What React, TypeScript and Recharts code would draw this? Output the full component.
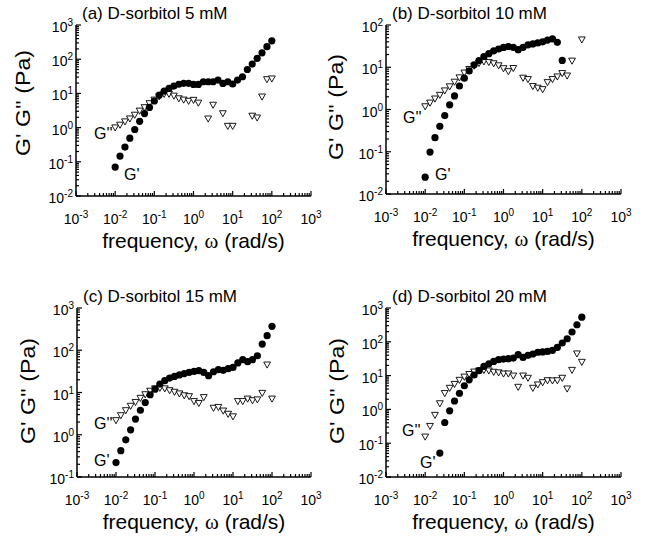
import React from "react";
import { ScatterChart, Scatter, XAxis, YAxis } from "recharts";

// angular frequency (rad/s), same sweep in every panel
const freq = [
  0.01, 0.0133, 0.0178, 0.0237, 0.0316, 0.0422, 0.0562, 0.075,
  0.1, 0.133, 0.178, 0.237, 0.316, 0.422, 0.562, 0.75,
  1, 1.33, 1.78, 2.37, 3.16, 4.22, 5.62, 7.5,
  10, 13.3, 17.8, 23.7, 31.6, 42.2, 56.2, 75, 100,
];

// (a) 5 mM
const gpA = [0.07, 0.147, 0.27, 0.49, 0.88, 1.53, 2.57, 3.9, 6.0, 8.9, 11.7, 14, 16.4, 18.5, 19.7, 19.7, 18.3, 18.3, 21.9, 21.9, 21.9, 24.5, 19.6, 21.9, 18.8, 24.5, 30.7, 50, 72, 106, 154, 232, 345];
const gppA = [1.0, 1.2, 1.5, 1.83, 2.35, 3.1, 3.9, 5.1, 6.5, 8.1, 9.6, 9.6, 8.5, 7.1, 6.5, 6.0, 6.4, 5.3, null, 1.82, 4.6, null, 2.6, 1.11, 1.11, null, null, null, 2.2, 1.95, 8.0, 25.7, 27];

// (b) 10 mM
const gpB = [0.025, 0.098, 0.215, 0.4, 0.72, 1.29, 2.1, 3.6, 5.5, 8.2, 11.4, 14.4, 17.9, 21, 24.5, 27, 29.5, 31, 29.7, 26, 29.7, 34, 35.6, 37.7, 40, 44, 47, 39, 14.5, null, null, null, null];
const gppB = [1.18, 1.44, 1.8, 2.2, 2.8, 3.5, 4.5, 5.7, 7.4, 9, 10.8, 12.5, 13.6, 13.2, 12.3, 11, 9.4, 8, 9.5, null, 5.6, 5.2, 3.55, 3.25, 3.0, 4.4, 5.2, 6.0, 7.2, 6.3, 14.2, null, 45];

// (c) 15 mM
const gpC = [0.22, 0.42, 0.76, 1.31, 2.35, 3.8, 5.8, 8.85, 12, 15.8, 19, 22, 24, 26, 28, 30, 31.6, 32.8, 29.9, 25, 31, 34.6, 33.4, 36.6, 39.3, 50, 60, 53.6, 60, 74, 140, 221, 368];
const gppC = [2.19, 2.87, 3.77, 4.8, 5.9, 7.4, 9.0, 10.9, 12.4, 12.8, 12.4, 11.2, 10.3, 9.4, 8.5, 8.1, 6.2, 5.6, 7.7, null, 4.3, 4.5, 3.7, 3.1, 2.7, 6.2, 6.2, 7.1, 6.5, 6.8, 9.7, 45.5, 7.1];

// (d) 20 mM
const gpD = [null, null, null, 0.051, 0.41, 0.91, 1.77, 3.0, 5.0, 7.5, 10.4, 14, 18.7, 22.4, 26.3, 29.5, 30.9, 31.6, 33, 41.6, 34.6, 39.7, 43.5, 49, 50, 52, 56, 68, 92, 123, 195, 320, 537];
const gppD = [0.155, 0.32, 0.68, 1.5, 3.0, 4.3, 5.6, 7.4, 9.2, 11, 13, 14, 14.5, 14, 12.8, 12.3, 11.4, 11.4, 9.9, 4.6, 9.9, 8.5, 4.3, 5.4, 6.3, 7.2, 7.1, 7.2, 8.5, 4.1, 14.6, 44.6, 25.2];

const xMajor = [0.001, 0.01, 0.1, 1, 10, 100, 1000];
const xExp = ["-3", "-2", "-1", "0", "1", "2", "3"];
const yMajorWide = [0.01, 0.1, 1, 10, 100, 1000];
const yExpWide = ["-2", "-1", "0", "1", "2", "3"];
const yMajorB = [0.01, 0.1, 1, 10, 100];
const yExpB = ["-2", "-1", "0", "1", "2"];
const yMajorC = [0.1, 1, 10, 100, 1000];
const yExpC = ["-1", "0", "1", "2", "3"];

const FONT = "'Liberation Sans', Arial, sans-serif";
const MAJOR = 5;
const MINOR = 3;
const W = 324;
const H = 269;

const withMinors = (majors: number[]) => {
  const out: number[] = [...majors];
  for (let i = 0; i < majors.length - 1; i++) {
    for (let m = 2; m <= 9; m++) out.push(majors[i] * m);
  }
  return out.sort((a, b) => a - b);
};

const findMajor = (majors: number[], v: number) =>
  majors.findIndex((m) => Math.abs(m - v) / m < 1e-6);

const toPoints = (ys: (number | null)[]) =>
  freq.map((f, i) => ({ x: f, y: ys[i] })).filter((d) => d.y != null);

const Dot = (p: any) => <circle cx={p.cx} cy={p.cy} r={3.6} fill="#000" />;
const Tri = (p: any) => (
  <path
    d={`M${p.cx - 3.4},${p.cy - 2.7} L${p.cx + 3.4},${p.cy - 2.7} L${p.cx},${p.cy + 3.4} Z`}
    fill="#fff"
    stroke="#000"
    strokeWidth={0.9}
  />
);

const Sup = ({ x, y, exp, anchor }: { x: number; y: number; exp: string; anchor: "middle" | "end" }) => (
  <text x={x} y={y} textAnchor={anchor} fontSize={14} fontFamily={FONT} fill="#000">
    10<tspan dy={-6} fontSize={10}>{exp}</tspan>
  </text>
);

// tick marks pointing into the plot box
const vMark = (x: number, y: number, len: number) => (
  <line x1={x} x2={x} y1={y} y2={y + len} stroke="#000" strokeWidth={1.2} />
);
const hMark = (x: number, y: number, len: number) => (
  <line x1={x} x2={x + len} y1={y} y2={y} stroke="#000" strokeWidth={1.2} />
);

const panels = [
  { title: "(a) D-sorbitol 5 mM", left: 0, top: 0, l: 76, t: 25, r: 311, b: 196, yMajor: yMajorWide, yExp: yExpWide, gp: gpA, gpp: gppA, gppAt: [94, 139], gpAt: [124, 180], yl: [22, 103] },
  { title: "(b) D-sorbitol 10 mM", left: 324, top: 0, l: 386, t: 25, r: 621, b: 194, yMajor: yMajorB, yExp: yExpB, gp: gpB, gpp: gppB, gppAt: [403, 123], gpAt: [435, 180], yl: [335, 107] },
  { title: "(c) D-sorbitol 15 mM", left: 0, top: 269, l: 77, t: 308, r: 311, b: 477, yMajor: yMajorC, yExp: yExpC, gp: gpC, gpp: gppC, gppAt: [94, 429], gpAt: [94, 466], yl: [27, 391] },
  { title: "(d) D-sorbitol 20 mM", left: 324, top: 269, l: 386, t: 308, r: 621, b: 477, yMajor: yMajorWide, yExp: yExpWide, gp: gpD, gpp: gppD, gppAt: [402, 436], gpAt: [420, 468], yl: [336, 391] },
];

const Panel = ({ p }: { p: (typeof panels)[number] }) => {
  const xTicks = withMinors(xMajor);
  const yTicks = withMinors(p.yMajor);
  const yDomain = [p.yMajor[0], p.yMajor[p.yMajor.length - 1]];
  const axisLine = { stroke: "#000", strokeWidth: 1.5 };

  const bottomTick = (t: any) => {
    const i = findMajor(xMajor, t.payload.value);
    if (i < 0) return vMark(t.x, t.y, -MINOR);
    return (
      <g>
        {vMark(t.x, t.y, -MAJOR)}
        <Sup x={t.x} y={t.y + 28} exp={xExp[i]} anchor="middle" />
      </g>
    );
  };
  const topTick = (t: any) =>
    vMark(t.x, t.y, findMajor(xMajor, t.payload.value) < 0 ? MINOR : MAJOR);
  const leftTick = (t: any) => {
    const i = findMajor(p.yMajor, t.payload.value);
    if (i < 0) return hMark(t.x, t.y, MINOR);
    return (
      <g>
        {hMark(t.x, t.y, MAJOR)}
        <Sup x={t.x - 3} y={t.y + 7} exp={p.yExp[i]} anchor="end" />
      </g>
    );
  };
  const rightTick = (t: any) =>
    hMark(t.x, t.y, findMajor(p.yMajor, t.payload.value) < 0 ? -MINOR : -MAJOR);

  const common = {
    type: "number" as const,
    scale: "log" as const,
    allowDataOverflow: true,
    interval: 0,
    tickSize: 0,
    tickMargin: 0,
    tickLine: false,
    axisLine,
    stroke: "#000",
  };

  return (
    <div style={{ position: "absolute", left: p.left, top: p.top, width: W, height: H }}>
      <ScatterChart
        width={W}
        height={H}
        margin={{ top: p.t - p.top, right: W - (p.r - p.left), bottom: 0, left: 0 }}
      >
        <XAxis {...common} xAxisId="bottom" dataKey="x" domain={[xMajor[0], xMajor[xMajor.length - 1]]} ticks={xTicks} height={H - (p.b - p.top)} tick={bottomTick} />
        <XAxis {...common} xAxisId="top" orientation="top" domain={[xMajor[0], xMajor[xMajor.length - 1]]} ticks={xTicks} height={0} tick={topTick} />
        <YAxis {...common} yAxisId="left" dataKey="y" domain={yDomain} ticks={yTicks} width={p.l - p.left} tick={leftTick} />
        <YAxis {...common} yAxisId="right" orientation="right" domain={yDomain} ticks={yTicks} width={0} tick={rightTick} />
        <Scatter name="G''" xAxisId="bottom" yAxisId="left" data={toPoints(p.gpp)} shape={Tri} isAnimationActive={false} />
        <Scatter name="G'" xAxisId="bottom" yAxisId="left" data={toPoints(p.gp)} shape={Dot} isAnimationActive={false} />
      </ScatterChart>
    </div>
  );
};

export default function App() {
  return (
    <div style={{ position: "absolute", left: 0, top: 0, width: 648, height: 538, background: "#fff" }}>
      {panels.map((p) => (
        <Panel key={p.title} p={p} />
      ))}
      <svg
        width={648}
        height={538}
        style={{ position: "absolute", left: 0, top: 0, pointerEvents: "none" }}
        fontFamily={FONT}
        fill="#000"
      >
        {panels.map((p) => (
          <g key={p.title}>
            <text x={p.l + 6} y={p.t - 6} fontSize={17}>{p.title}</text>
            <text
              x={p.yl[0]}
              y={p.yl[1]}
              fontSize={21}
              textLength={106}
              lengthAdjust="spacingAndGlyphs"
              textAnchor="middle"
              dominantBaseline="central"
              transform={`rotate(-90 ${p.yl[0]} ${p.yl[1]})`}
            >
              G' G'' (Pa)
            </text>
            <text x={(p.l + p.r) / 2} y={p.b + 52} fontSize={21} textAnchor="middle">
              frequency, <tspan fontFamily="'Liberation Serif', serif">ω</tspan> (rad/s)
            </text>
            <text x={p.gppAt[0]} y={p.gppAt[1]} fontSize={16}>G''</text>
            <text x={p.gpAt[0]} y={p.gpAt[1]} fontSize={16}>G'</text>
          </g>
        ))}
      </svg>
    </div>
  );
}
